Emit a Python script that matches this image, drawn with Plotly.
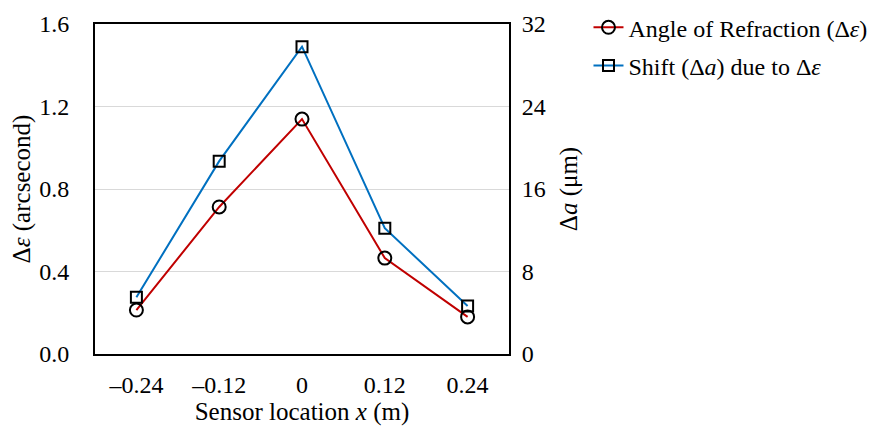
import plotly.graph_objects as go

categories = ["-0.24", "-0.12", "0", "0.12", "0.24"]
tick_labels = ["\u20130.24", "\u20130.12", "0", "0.12", "0.24"]
angle_refraction = [0.213, 0.713, 1.139, 0.465, 0.18]
shift_um = [5.5, 18.7, 29.8, 12.2, 4.65]

FONT = "Liberation Serif, Times New Roman, serif"
RED = "#C00000"
BLUE = "#0070C0"
FS = 24
TS = 25

fig = go.Figure()
fig.add_trace(go.Scatter(
    x=categories, y=angle_refraction, mode="lines+markers",
    name="Angle of Refraction (\u0394<i>\u03b5</i>)",
    line=dict(color=RED, width=2),
    marker=dict(symbol="circle-open", size=13, color="black", line=dict(width=2, color="black")),
    legendgroup="a", yaxis="y"))
fig.add_trace(go.Scatter(
    x=categories, y=shift_um, mode="lines+markers",
    name="Shift (\u0394<i>a</i>) due to \u0394<i>\u03b5</i>",
    line=dict(color=BLUE, width=2),
    marker=dict(symbol="square-open", size=11, color="black", line=dict(width=2, color="black")),
    legendgroup="b", yaxis="y2"))

fig.update_layout(
    width=877, height=429,
    margin=dict(l=87, r=376, t=16, b=83, autoexpand=False),
    paper_bgcolor="white", plot_bgcolor="white",
    font=dict(family=FONT, size=FS, color="black"),
    xaxis=dict(type="category", categoryorder="array", categoryarray=categories,
               tickvals=categories, ticktext=tick_labels, range=[-0.5, 4.5],
               showline=True, mirror=True, linecolor="black", linewidth=2,
               showgrid=False, ticks="", ticklabelstandoff=8, automargin=False,
               tickfont=dict(family=FONT, size=FS),
               title=dict(text="Sensor location <i>x</i> (m)", standoff=6,
                          font=dict(family=FONT, size=TS))),
    yaxis=dict(range=[0, 1.6], tickvals=[0, 0.4, 0.8, 1.2, 1.6],
               ticktext=["0.0", "0.4", "0.8", "1.2", "1.6"],
               showline=True, linecolor="black", linewidth=2,
               showgrid=True, gridcolor="#D9D9D9", gridwidth=1, zeroline=False,
               ticks="", ticklabelstandoff=19, automargin=False,
               tickfont=dict(family=FONT, size=FS),
               title=dict(text="\u0394<i>\u03b5</i> (arcsecond)", standoff=7,
                          font=dict(family=FONT, size=TS))),
    yaxis2=dict(range=[0, 32], tickvals=[0, 8, 16, 24, 32], overlaying="y", side="right",
                showline=True, linecolor="black", linewidth=2,
                showgrid=False, zeroline=False, ticks="", ticklabelstandoff=6,
                automargin=False, tickfont=dict(family=FONT, size=FS),
                title=dict(text="\u0394<i>a</i> (\u03bcm)", standoff=15,
                           font=dict(family=FONT, size=TS))),
    legend=dict(x=1.192, y=1.057, xanchor="left", yanchor="top",
                font=dict(size=FS, family=FONT), tracegroupgap=4,
                bgcolor="rgba(0,0,0,0)"),
    showlegend=True,
)

fig.write_html("out.html")
